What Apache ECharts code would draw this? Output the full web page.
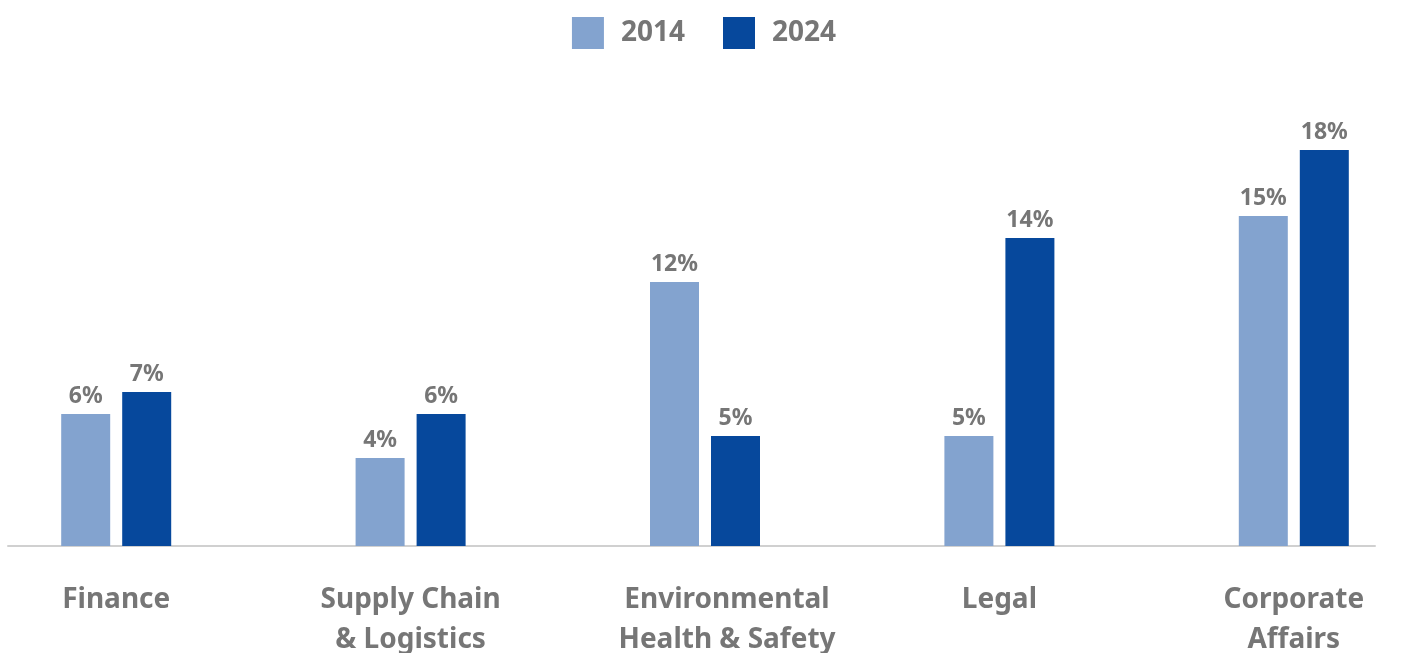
<!DOCTYPE html>
<html>
<head>
<meta charset="utf-8">
<script src="https://cdn.jsdelivr.net/npm/echarts@6/dist/echarts.min.js"></script>
<style>
  html, body { margin: 0; padding: 0; background: #ffffff; }
  #chart { width: 1408px; height: 653px; }
</style>
</head>
<body>
<div id="chart"></div>
<script>
// Share of roles by function, 2014 vs 2024 (percent)
const categories = ['Finance', 'Supply Chain\n& Logistics', 'Environmental\nHealth & Safety', 'Legal', 'Corporate\nAffairs'];
const values2014 = [6, 4, 12, 5, 15];
const values2024 = [7, 6, 5, 14, 18];
const seriesNames = ['2014', '2024'];

const FONT = '"Noto Sans", sans-serif';
const GREY = '#767676';
const LIGHT = '#83A3CF';
const DARK = '#06489C';

const chart = echarts.init(document.getElementById('chart'), null, { renderer: 'canvas' });

const valueLabel = {
  show: true,
  position: 'top',
  distance: 6,
  formatter: p => p.value + '%',
  color: GREY,
  fontFamily: FONT,
  fontWeight: 'bold',
  fontSize: 23
};

// the long two-line label sits a little right of its bar pair
const categoryItems = categories.map((name, i) =>
  i === 2 ? { value: name, textStyle: { padding: [0, 0, 0, 44] } } : name
);

chart.setOption({
  animation: false,
  backgroundColor: '#ffffff',
  legend: {
    top: 12,
    left: 'center',
    itemWidth: 32,
    itemHeight: 32,
    itemGap: 38,
    icon: 'rect',
    textStyle: { color: GREY, fontFamily: FONT, fontWeight: 'bold', fontSize: 28, padding: [0, 0, 0, 12] },
    data: seriesNames
  },
  grid: [
    { left: -31, right: -33, top: 106, bottom: 107, outerBoundsMode: 'none', containLabel: false },
    { left: 8, right: 33, top: 106, bottom: 107, outerBoundsMode: 'none', containLabel: false }
  ],
  xAxis: [
    {
      type: 'category',
      gridIndex: 0,
      data: categoryItems,
      axisLine: { show: false },
      axisTick: { show: false },
      axisLabel: {
        color: GREY,
        fontFamily: FONT,
        fontWeight: 'bold',
        fontSize: 28,
        lineHeight: 40,
        margin: 34,
        interval: 0
      }
    },
    {
      // baseline rule spanning the plot
      type: 'value',
      gridIndex: 1,
      min: 0,
      max: 1,
      axisLine: { show: true, lineStyle: { color: '#d0d0d0', width: 2 } },
      axisTick: { show: false },
      axisLabel: { show: false },
      splitLine: { show: false }
    }
  ],
  yAxis: [
    { type: 'value', gridIndex: 0, min: 0, max: 20, show: false, splitLine: { show: false } },
    { type: 'value', gridIndex: 1, min: 0, max: 1, show: false, splitLine: { show: false } }
  ],
  series: [
    {
      name: seriesNames[0],
      type: 'bar',
      xAxisIndex: 0,
      yAxisIndex: 0,
      data: values2014,
      barWidth: 49,
      barGap: '24.5%',
      itemStyle: { color: LIGHT },
      label: valueLabel,
      z: 1
    },
    {
      name: seriesNames[1],
      type: 'bar',
      xAxisIndex: 0,
      yAxisIndex: 0,
      data: values2024,
      barWidth: 49,
      barGap: '24.5%',
      itemStyle: { color: DARK },
      label: valueLabel,
      z: 1
    }
  ]
});
</script>
</body>
</html>
